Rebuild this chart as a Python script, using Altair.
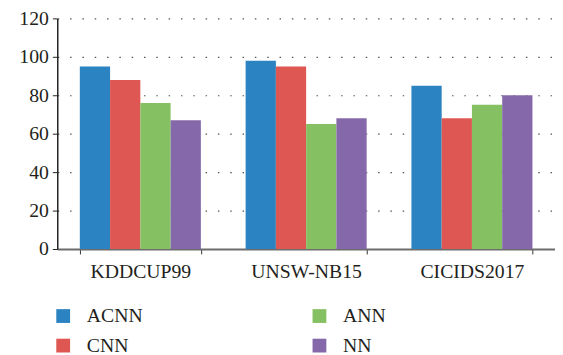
import altair as alt
import pandas as pd

datasets = ["KDDCUP99", "UNSW-NB15", "CICIDS2017"]
models = ["ACNN", "CNN", "ANN", "NN"]
acnn = [95, 98, 85]
cnn = [88, 95, 68]
ann = [76, 65, 75]
nn = [67, 68, 80]
colors = ["#2B83C1", "#DE5753", "#85C162", "#8468A9"]
y_ticks = [0, 20, 40, 60, 80, 100, 120]

series = {"ACNN": acnn, "CNN": cnn, "ANN": ann, "NN": nn}
rows = []
for m in models:
    for d, v in zip(datasets, series[m]):
        rows.append({"dataset": d, "model": m, "value": v})
df = pd.DataFrame(rows)

FONT = "Liberation Serif"
TXT = "#231F20"

chart = alt.Chart(df).mark_bar().encode(
    x=alt.X("dataset:N", sort=datasets,
            scale=alt.Scale(paddingInner=0.27, paddingOuter=0.136),
            axis=alt.Axis(title=None, labelAngle=0, tickBand="extent",
                          domainColor="#6d6d6d", domainWidth=2,
                          tickColor="#333333", tickSize=5,
                          labelFontSize=20, labelPadding=8, grid=False,
                          labelFont=FONT, labelColor=TXT)),
    xOffset=alt.XOffset("model:N", sort=models,
                        scale=alt.Scale(paddingInner=0, paddingOuter=0)),
    y=alt.Y("value:Q", scale=alt.Scale(domain=[0, 120]),
            axis=alt.Axis(title=None, values=y_ticks, grid=True,
                          gridDash=[1.5, 11], gridColor="#555555", gridWidth=1.2,
                          tickSize=5, tickColor="#222222", domainColor="#222222",
                          domainWidth=1.5, labelFontSize=20, labelPadding=4,
                          labelFont=FONT, labelColor=TXT)),
    color=alt.Color("model:N",
                    scale=alt.Scale(domain=models, range=colors),
                    legend=alt.Legend(title=None, orient="none",
                                      legendX=-4, legendY=292,
                                      columns=2,
                                      columnPadding=169, rowPadding=10,
                                      symbolType="square", symbolSize=196,
                                      symbolStrokeWidth=0, labelOffset=14,
                                      labelFontSize=20, labelFont=FONT,
                                      labelColor=TXT)),
).properties(
    width=505, height=234,
    autosize=alt.AutoSizeParams(type="none"),
    padding={"left": 50, "top": 8, "right": 0, "bottom": 105},
)

chart = chart.configure_view(stroke=None)

chart.save("out.html", embed_options={"renderer": "svg", "actions": False})
